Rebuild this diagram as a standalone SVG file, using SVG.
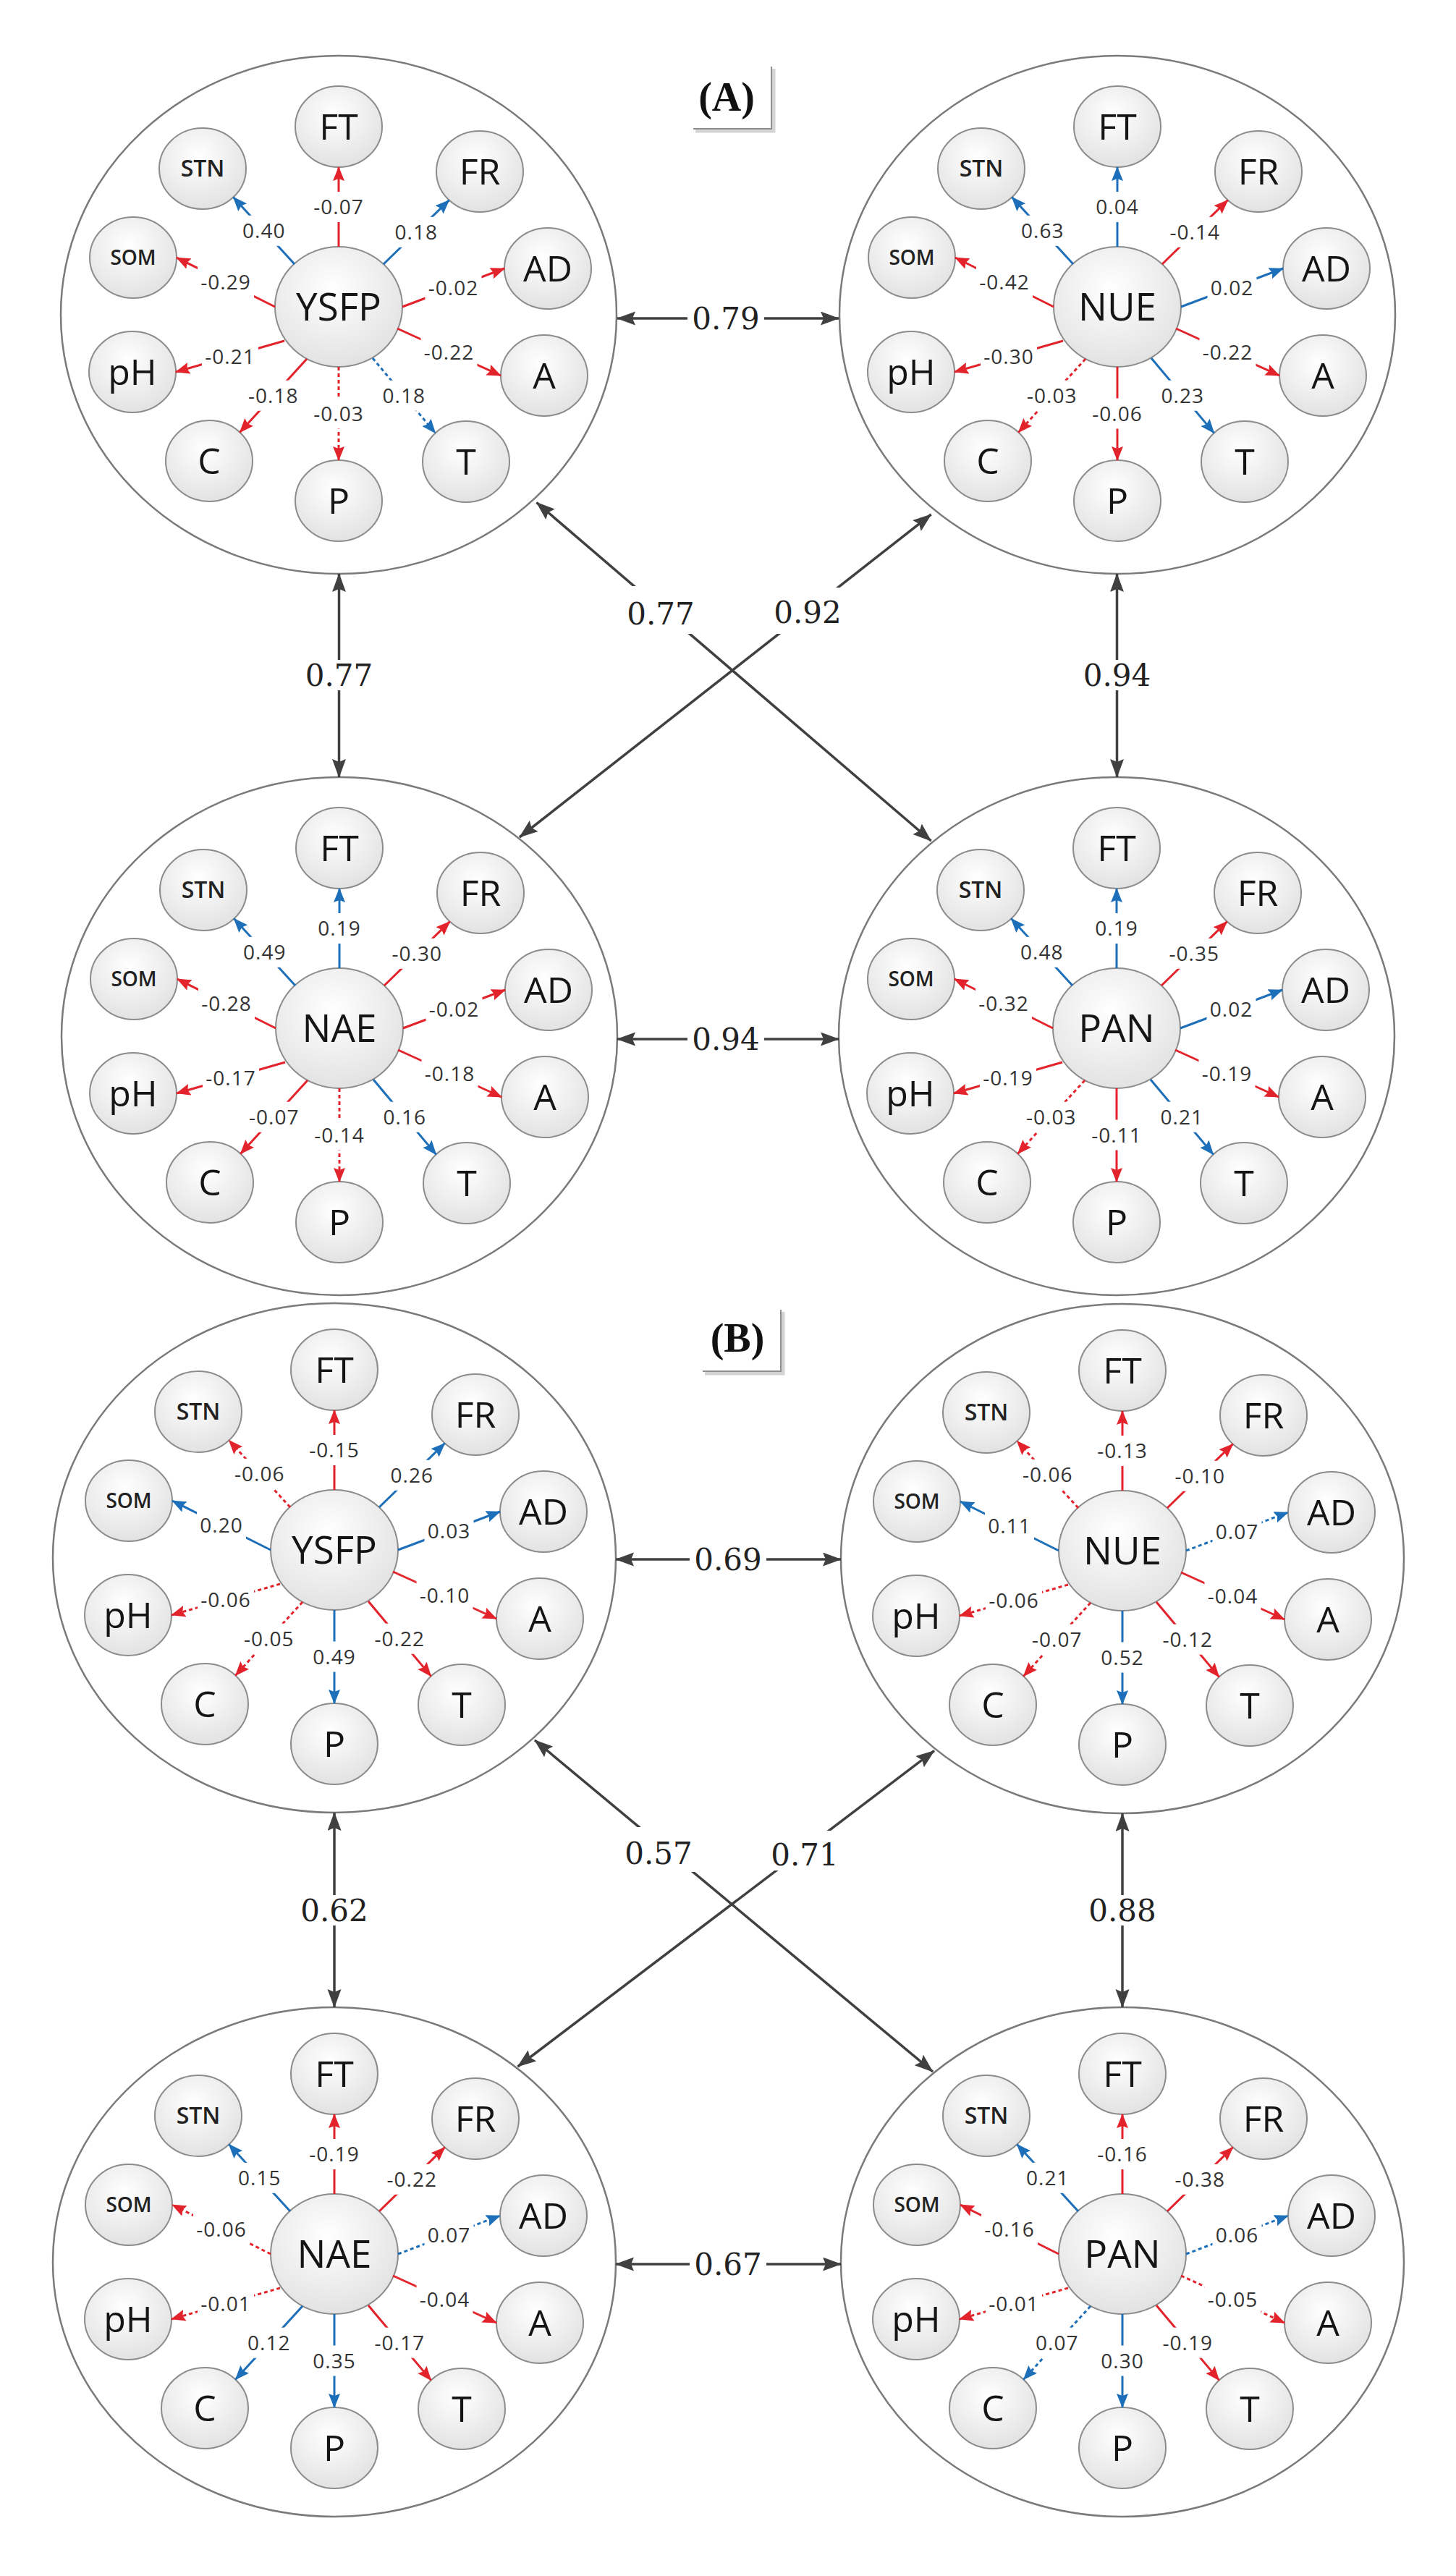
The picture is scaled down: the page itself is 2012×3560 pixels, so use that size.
<svg xmlns="http://www.w3.org/2000/svg" xmlns:xlink="http://www.w3.org/1999/xlink" width="2012" height="3560" viewBox="0 0 2012 3560">
<style>
.bgc{fill:#fff;stroke:#7a7a7a;stroke-width:2.5}
.nd ellipse{fill:url(#gr);stroke:#8c8c8c;stroke-width:2}
.cl{font-family:"Open Sans",sans-serif;font-size:53px;fill:#151515;text-anchor:middle}
.sl{font-family:"Open Sans",sans-serif;font-size:50px;fill:#151515;text-anchor:middle}
.stn{font-family:"Open Sans",sans-serif;font-size:32px;font-weight:600;fill:#222;text-anchor:middle}
.som{font-family:"Open Sans",sans-serif;font-size:28px;font-weight:600;fill:#222;text-anchor:middle}
.lk line{stroke-width:3;fill:none}
.lk .r{stroke:#e3232b;marker-end:url(#mr)}
.lk .b{stroke:#1c6fb8;marker-end:url(#mb)}
.lk .d{stroke-dasharray:5 4}
.lk text{font-family:"Open Sans",sans-serif;font-size:28px;fill:#333;text-anchor:middle;letter-spacing:1px}
.oc{stroke:#404040;stroke-width:3.5;fill:none;marker-start:url(#mk);marker-end:url(#mk)}
.ol{font-family:"DejaVu Serif",serif;font-size:42px;fill:#222;text-anchor:middle}
.wb{fill:#fff}
.tt{font-family:"Liberation Serif",serif;font-size:56px;font-weight:bold;fill:#111;text-anchor:middle}
.sh1{fill:none;stroke:#d4d4d4;stroke-width:5}
.sh2{fill:none;stroke:#8f8f8f;stroke-width:2}
</style>
<defs>
<radialGradient id="gr" cx="0.45" cy="0.35" r="0.75"><stop offset="0" stop-color="#ffffff"/><stop offset="1" stop-color="#dedede"/></radialGradient>
<marker id="mr" markerUnits="userSpaceOnUse" markerWidth="22" markerHeight="18" refX="19" refY="8" orient="auto"><path d="M0,0 L20,8 L0,16 L3,8 z" fill="#e3232b"/></marker>
<marker id="mb" markerUnits="userSpaceOnUse" markerWidth="22" markerHeight="18" refX="19" refY="8" orient="auto"><path d="M0,0 L20,8 L0,16 L3,8 z" fill="#1c6fb8"/></marker>
<marker id="mk" markerUnits="userSpaceOnUse" markerWidth="28" markerHeight="22" refX="25" refY="9.5" orient="auto-start-reverse"><path d="M0,0 L26,9.5 L0,19 L4,9.5 z" fill="#404040"/></marker>
<rect id="rn" x="-39" y="-21" width="78" height="42" fill="#fff"/>
<rect id="rp" x="-34" y="-21" width="68" height="42" fill="#fff"/>
</defs>
<rect width="2012" height="3560" fill="#fff"/>

<g id="title-A"><path class="sh1" d="M961,181 H1069 V95"/><path class="sh2" d="M958,178 H1066 V92"/><text class="tt" x="1004" y="153">(A)</text></g>
<g id="title-B"><path class="sh1" d="M974,1898 H1082 V1813"/><path class="sh2" d="M971,1895 H1079 V1810"/><text class="tt" x="1019" y="1868">(B)</text></g>

<!-- ===== Panel A ===== -->
<g id="A-YSFP" transform="translate(468,424)">
<ellipse class="bgc" cx="0" cy="11" rx="384" ry="358"/>
<g id="A-YSFP-YSFP" class="nd"><ellipse rx="88" ry="83"/><text class="cl" y="19">YSFP</text></g>
<g id="A-YSFP-FT" class="nd" transform="translate(0,-249)"><ellipse rx="60" ry="56"/><text class="sl" y="18">FT</text></g>
<g id="A-YSFP-FR" class="nd" transform="translate(195,-187)"><ellipse rx="60" ry="56"/><text class="sl" y="18">FR</text></g>
<g id="A-YSFP-AD" class="nd" transform="translate(289,-53)"><ellipse rx="60" ry="56"/><text class="sl" y="18">AD</text></g>
<g id="A-YSFP-A" class="nd" transform="translate(284,95)"><ellipse rx="60" ry="56"/><text class="sl" y="18">A</text></g>
<g id="A-YSFP-T" class="nd" transform="translate(176,214)"><ellipse rx="60" ry="56"/><text class="sl" y="18">T</text></g>
<g id="A-YSFP-P" class="nd" transform="translate(0,268)"><ellipse rx="60" ry="56"/><text class="sl" y="18">P</text></g>
<g id="A-YSFP-C" class="nd" transform="translate(-179,213)"><ellipse rx="60" ry="56"/><text class="sl" y="18">C</text></g>
<g id="A-YSFP-pH" class="nd" transform="translate(-285,90)"><ellipse rx="60" ry="56"/><text class="sl" y="18">pH</text></g>
<g id="A-YSFP-SOM" class="nd" transform="translate(-284,-68)"><ellipse rx="60" ry="56"/><text class="som" y="10">SOM</text></g>
<g id="A-YSFP-STN" class="nd" transform="translate(-188,-191)"><ellipse rx="60" ry="56"/><text class="stn" y="11">STN</text></g>
</g>

<g id="A-NUE" transform="translate(1544,424)">
<ellipse class="bgc" cx="0" cy="11" rx="384" ry="358"/>
<g id="A-NUE-NUE" class="nd"><ellipse rx="88" ry="83"/><text class="cl" y="19">NUE</text></g>
<g id="A-NUE-FT" class="nd" transform="translate(0,-249)"><ellipse rx="60" ry="56"/><text class="sl" y="18">FT</text></g>
<g id="A-NUE-FR" class="nd" transform="translate(195,-187)"><ellipse rx="60" ry="56"/><text class="sl" y="18">FR</text></g>
<g id="A-NUE-AD" class="nd" transform="translate(289,-53)"><ellipse rx="60" ry="56"/><text class="sl" y="18">AD</text></g>
<g id="A-NUE-A" class="nd" transform="translate(284,95)"><ellipse rx="60" ry="56"/><text class="sl" y="18">A</text></g>
<g id="A-NUE-T" class="nd" transform="translate(176,214)"><ellipse rx="60" ry="56"/><text class="sl" y="18">T</text></g>
<g id="A-NUE-P" class="nd" transform="translate(0,268)"><ellipse rx="60" ry="56"/><text class="sl" y="18">P</text></g>
<g id="A-NUE-C" class="nd" transform="translate(-179,213)"><ellipse rx="60" ry="56"/><text class="sl" y="18">C</text></g>
<g id="A-NUE-pH" class="nd" transform="translate(-285,90)"><ellipse rx="60" ry="56"/><text class="sl" y="18">pH</text></g>
<g id="A-NUE-SOM" class="nd" transform="translate(-284,-68)"><ellipse rx="60" ry="56"/><text class="som" y="10">SOM</text></g>
<g id="A-NUE-STN" class="nd" transform="translate(-188,-191)"><ellipse rx="60" ry="56"/><text class="stn" y="11">STN</text></g>
</g>

<g id="A-NAE" transform="translate(469,1421)">
<ellipse class="bgc" cx="0" cy="11" rx="384" ry="358"/>
<g id="A-NAE-NAE" class="nd"><ellipse rx="88" ry="83"/><text class="cl" y="19">NAE</text></g>
<g id="A-NAE-FT" class="nd" transform="translate(0,-249)"><ellipse rx="60" ry="56"/><text class="sl" y="18">FT</text></g>
<g id="A-NAE-FR" class="nd" transform="translate(195,-187)"><ellipse rx="60" ry="56"/><text class="sl" y="18">FR</text></g>
<g id="A-NAE-AD" class="nd" transform="translate(289,-53)"><ellipse rx="60" ry="56"/><text class="sl" y="18">AD</text></g>
<g id="A-NAE-A" class="nd" transform="translate(284,95)"><ellipse rx="60" ry="56"/><text class="sl" y="18">A</text></g>
<g id="A-NAE-T" class="nd" transform="translate(176,214)"><ellipse rx="60" ry="56"/><text class="sl" y="18">T</text></g>
<g id="A-NAE-P" class="nd" transform="translate(0,268)"><ellipse rx="60" ry="56"/><text class="sl" y="18">P</text></g>
<g id="A-NAE-C" class="nd" transform="translate(-179,213)"><ellipse rx="60" ry="56"/><text class="sl" y="18">C</text></g>
<g id="A-NAE-pH" class="nd" transform="translate(-285,90)"><ellipse rx="60" ry="56"/><text class="sl" y="18">pH</text></g>
<g id="A-NAE-SOM" class="nd" transform="translate(-284,-68)"><ellipse rx="60" ry="56"/><text class="som" y="10">SOM</text></g>
<g id="A-NAE-STN" class="nd" transform="translate(-188,-191)"><ellipse rx="60" ry="56"/><text class="stn" y="11">STN</text></g>
</g>

<g id="A-PAN" transform="translate(1543,1421)">
<ellipse class="bgc" cx="0" cy="11" rx="384" ry="358"/>
<g id="A-PAN-PAN" class="nd"><ellipse rx="88" ry="83"/><text class="cl" y="19">PAN</text></g>
<g id="A-PAN-FT" class="nd" transform="translate(0,-249)"><ellipse rx="60" ry="56"/><text class="sl" y="18">FT</text></g>
<g id="A-PAN-FR" class="nd" transform="translate(195,-187)"><ellipse rx="60" ry="56"/><text class="sl" y="18">FR</text></g>
<g id="A-PAN-AD" class="nd" transform="translate(289,-53)"><ellipse rx="60" ry="56"/><text class="sl" y="18">AD</text></g>
<g id="A-PAN-A" class="nd" transform="translate(284,95)"><ellipse rx="60" ry="56"/><text class="sl" y="18">A</text></g>
<g id="A-PAN-T" class="nd" transform="translate(176,214)"><ellipse rx="60" ry="56"/><text class="sl" y="18">T</text></g>
<g id="A-PAN-P" class="nd" transform="translate(0,268)"><ellipse rx="60" ry="56"/><text class="sl" y="18">P</text></g>
<g id="A-PAN-C" class="nd" transform="translate(-179,213)"><ellipse rx="60" ry="56"/><text class="sl" y="18">C</text></g>
<g id="A-PAN-pH" class="nd" transform="translate(-285,90)"><ellipse rx="60" ry="56"/><text class="sl" y="18">pH</text></g>
<g id="A-PAN-SOM" class="nd" transform="translate(-284,-68)"><ellipse rx="60" ry="56"/><text class="som" y="10">SOM</text></g>
<g id="A-PAN-STN" class="nd" transform="translate(-188,-191)"><ellipse rx="60" ry="56"/><text class="stn" y="11">STN</text></g>
</g>

<!-- ===== Panel B ===== -->
<g id="B-YSFP" transform="translate(462,2142)">
<ellipse class="bgc" cx="0" cy="11" rx="389" ry="352"/>
<g id="B-YSFP-YSFP" class="nd"><ellipse rx="88" ry="83"/><text class="cl" y="19">YSFP</text></g>
<g id="B-YSFP-FT" class="nd" transform="translate(0,-249)"><ellipse rx="60" ry="56"/><text class="sl" y="18">FT</text></g>
<g id="B-YSFP-FR" class="nd" transform="translate(195,-187)"><ellipse rx="60" ry="56"/><text class="sl" y="18">FR</text></g>
<g id="B-YSFP-AD" class="nd" transform="translate(289,-53)"><ellipse rx="60" ry="56"/><text class="sl" y="18">AD</text></g>
<g id="B-YSFP-A" class="nd" transform="translate(284,95)"><ellipse rx="60" ry="56"/><text class="sl" y="18">A</text></g>
<g id="B-YSFP-T" class="nd" transform="translate(176,214)"><ellipse rx="60" ry="56"/><text class="sl" y="18">T</text></g>
<g id="B-YSFP-P" class="nd" transform="translate(0,268)"><ellipse rx="60" ry="56"/><text class="sl" y="18">P</text></g>
<g id="B-YSFP-C" class="nd" transform="translate(-179,213)"><ellipse rx="60" ry="56"/><text class="sl" y="18">C</text></g>
<g id="B-YSFP-pH" class="nd" transform="translate(-285,90)"><ellipse rx="60" ry="56"/><text class="sl" y="18">pH</text></g>
<g id="B-YSFP-SOM" class="nd" transform="translate(-284,-68)"><ellipse rx="60" ry="56"/><text class="som" y="10">SOM</text></g>
<g id="B-YSFP-STN" class="nd" transform="translate(-188,-191)"><ellipse rx="60" ry="56"/><text class="stn" y="11">STN</text></g>
</g>

<g id="B-NUE" transform="translate(1551,2143)">
<ellipse class="bgc" cx="0" cy="11" rx="389" ry="352"/>
<g id="B-NUE-NUE" class="nd"><ellipse rx="88" ry="83"/><text class="cl" y="19">NUE</text></g>
<g id="B-NUE-FT" class="nd" transform="translate(0,-249)"><ellipse rx="60" ry="56"/><text class="sl" y="18">FT</text></g>
<g id="B-NUE-FR" class="nd" transform="translate(195,-187)"><ellipse rx="60" ry="56"/><text class="sl" y="18">FR</text></g>
<g id="B-NUE-AD" class="nd" transform="translate(289,-53)"><ellipse rx="60" ry="56"/><text class="sl" y="18">AD</text></g>
<g id="B-NUE-A" class="nd" transform="translate(284,95)"><ellipse rx="60" ry="56"/><text class="sl" y="18">A</text></g>
<g id="B-NUE-T" class="nd" transform="translate(176,214)"><ellipse rx="60" ry="56"/><text class="sl" y="18">T</text></g>
<g id="B-NUE-P" class="nd" transform="translate(0,268)"><ellipse rx="60" ry="56"/><text class="sl" y="18">P</text></g>
<g id="B-NUE-C" class="nd" transform="translate(-179,213)"><ellipse rx="60" ry="56"/><text class="sl" y="18">C</text></g>
<g id="B-NUE-pH" class="nd" transform="translate(-285,90)"><ellipse rx="60" ry="56"/><text class="sl" y="18">pH</text></g>
<g id="B-NUE-SOM" class="nd" transform="translate(-284,-68)"><ellipse rx="60" ry="56"/><text class="som" y="10">SOM</text></g>
<g id="B-NUE-STN" class="nd" transform="translate(-188,-191)"><ellipse rx="60" ry="56"/><text class="stn" y="11">STN</text></g>
</g>

<g id="B-NAE" transform="translate(462,3115)">
<ellipse class="bgc" cx="0" cy="11" rx="389" ry="352"/>
<g id="B-NAE-NAE" class="nd"><ellipse rx="88" ry="83"/><text class="cl" y="19">NAE</text></g>
<g id="B-NAE-FT" class="nd" transform="translate(0,-249)"><ellipse rx="60" ry="56"/><text class="sl" y="18">FT</text></g>
<g id="B-NAE-FR" class="nd" transform="translate(195,-187)"><ellipse rx="60" ry="56"/><text class="sl" y="18">FR</text></g>
<g id="B-NAE-AD" class="nd" transform="translate(289,-53)"><ellipse rx="60" ry="56"/><text class="sl" y="18">AD</text></g>
<g id="B-NAE-A" class="nd" transform="translate(284,95)"><ellipse rx="60" ry="56"/><text class="sl" y="18">A</text></g>
<g id="B-NAE-T" class="nd" transform="translate(176,214)"><ellipse rx="60" ry="56"/><text class="sl" y="18">T</text></g>
<g id="B-NAE-P" class="nd" transform="translate(0,268)"><ellipse rx="60" ry="56"/><text class="sl" y="18">P</text></g>
<g id="B-NAE-C" class="nd" transform="translate(-179,213)"><ellipse rx="60" ry="56"/><text class="sl" y="18">C</text></g>
<g id="B-NAE-pH" class="nd" transform="translate(-285,90)"><ellipse rx="60" ry="56"/><text class="sl" y="18">pH</text></g>
<g id="B-NAE-SOM" class="nd" transform="translate(-284,-68)"><ellipse rx="60" ry="56"/><text class="som" y="10">SOM</text></g>
<g id="B-NAE-STN" class="nd" transform="translate(-188,-191)"><ellipse rx="60" ry="56"/><text class="stn" y="11">STN</text></g>
</g>

<g id="B-PAN" transform="translate(1551,3115)">
<ellipse class="bgc" cx="0" cy="11" rx="389" ry="352"/>
<g id="B-PAN-PAN" class="nd"><ellipse rx="88" ry="83"/><text class="cl" y="19">PAN</text></g>
<g id="B-PAN-FT" class="nd" transform="translate(0,-249)"><ellipse rx="60" ry="56"/><text class="sl" y="18">FT</text></g>
<g id="B-PAN-FR" class="nd" transform="translate(195,-187)"><ellipse rx="60" ry="56"/><text class="sl" y="18">FR</text></g>
<g id="B-PAN-AD" class="nd" transform="translate(289,-53)"><ellipse rx="60" ry="56"/><text class="sl" y="18">AD</text></g>
<g id="B-PAN-A" class="nd" transform="translate(284,95)"><ellipse rx="60" ry="56"/><text class="sl" y="18">A</text></g>
<g id="B-PAN-T" class="nd" transform="translate(176,214)"><ellipse rx="60" ry="56"/><text class="sl" y="18">T</text></g>
<g id="B-PAN-P" class="nd" transform="translate(0,268)"><ellipse rx="60" ry="56"/><text class="sl" y="18">P</text></g>
<g id="B-PAN-C" class="nd" transform="translate(-179,213)"><ellipse rx="60" ry="56"/><text class="sl" y="18">C</text></g>
<g id="B-PAN-pH" class="nd" transform="translate(-285,90)"><ellipse rx="60" ry="56"/><text class="sl" y="18">pH</text></g>
<g id="B-PAN-SOM" class="nd" transform="translate(-284,-68)"><ellipse rx="60" ry="56"/><text class="som" y="10">SOM</text></g>
<g id="B-PAN-STN" class="nd" transform="translate(-188,-191)"><ellipse rx="60" ry="56"/><text class="stn" y="11">STN</text></g>
</g>

<!-- ===== Connectors ===== -->
<g id="connectors">

<g id="A-YSFP-links" class="lk" transform="translate(468,424)">
<line class="r" x1="0" y1="-83" x2="0" y2="-193"/><use href="#rn" x="0" y="-138"/><text x="0" y="-128">-0.07</text>
<line class="b" x1="62" y1="-59" x2="152.6" y2="-147.4"/><use href="#rp" x="107.3" y="-103.2"/><text x="107.3" y="-93.2">0.18</text>
<line class="r" x1="88" y1="0" x2="229" y2="-53"/><use href="#rn" x="158.5" y="-26.5"/><text x="158.5" y="-16.5">-0.02</text>
<line class="r" x1="81" y1="30" x2="224" y2="95"/><use href="#rn" x="152.5" y="62.5"/><text x="152.5" y="72.5">-0.22</text>
<line class="b d" x1="47" y1="71" x2="133.6" y2="174.4"/><use href="#rp" x="90.3" y="122.7"/><text x="90.3" y="132.7">0.18</text>
<line class="r d" x1="0" y1="83" x2="0" y2="212"/><use href="#rn" x="0" y="147.5"/><text x="0" y="157.5">-0.03</text>
<line class="r" x1="-44" y1="72" x2="-136.6" y2="173.4"/><use href="#rn" x="-90.3" y="122.7"/><text x="-90.3" y="132.7">-0.18</text>
<line class="r" x1="-75" y1="47" x2="-225" y2="90"/><use href="#rn" x="-150" y="68.5"/><text x="-150" y="78.5">-0.21</text>
<line class="r" x1="-88" y1="0" x2="-224" y2="-68"/><use href="#rn" x="-156" y="-34"/><text x="-156" y="-24">-0.29</text>
<line class="b" x1="-61" y1="-59" x2="-145.6" y2="-151.4"/><use href="#rp" x="-103.3" y="-105.2"/><text x="-103.3" y="-95.2">0.40</text>
</g>

<g id="A-NUE-links" class="lk" transform="translate(1544,424)">
<line class="b" x1="0" y1="-83" x2="0" y2="-193"/><use href="#rp" x="0" y="-138"/><text x="0" y="-128">0.04</text>
<line class="r" x1="62" y1="-59" x2="152.6" y2="-147.4"/><use href="#rn" x="107.3" y="-103.2"/><text x="107.3" y="-93.2">-0.14</text>
<line class="b" x1="88" y1="0" x2="229" y2="-53"/><use href="#rp" x="158.5" y="-26.5"/><text x="158.5" y="-16.5">0.02</text>
<line class="r" x1="81" y1="30" x2="224" y2="95"/><use href="#rn" x="152.5" y="62.5"/><text x="152.5" y="72.5">-0.22</text>
<line class="b" x1="47" y1="71" x2="133.6" y2="174.4"/><use href="#rp" x="90.3" y="122.7"/><text x="90.3" y="132.7">0.23</text>
<line class="r" x1="0" y1="83" x2="0" y2="212"/><use href="#rn" x="0" y="147.5"/><text x="0" y="157.5">-0.06</text>
<line class="r d" x1="-44" y1="72" x2="-136.6" y2="173.4"/><use href="#rn" x="-90.3" y="122.7"/><text x="-90.3" y="132.7">-0.03</text>
<line class="r" x1="-75" y1="47" x2="-225" y2="90"/><use href="#rn" x="-150" y="68.5"/><text x="-150" y="78.5">-0.30</text>
<line class="r" x1="-88" y1="0" x2="-224" y2="-68"/><use href="#rn" x="-156" y="-34"/><text x="-156" y="-24">-0.42</text>
<line class="b" x1="-61" y1="-59" x2="-145.6" y2="-151.4"/><use href="#rp" x="-103.3" y="-105.2"/><text x="-103.3" y="-95.2">0.63</text>
</g>

<g id="A-NAE-links" class="lk" transform="translate(469,1421)">
<line class="b" x1="0" y1="-83" x2="0" y2="-193"/><use href="#rp" x="0" y="-138"/><text x="0" y="-128">0.19</text>
<line class="r" x1="62" y1="-59" x2="152.6" y2="-147.4"/><use href="#rn" x="107.3" y="-103.2"/><text x="107.3" y="-93.2">-0.30</text>
<line class="r" x1="88" y1="0" x2="229" y2="-53"/><use href="#rn" x="158.5" y="-26.5"/><text x="158.5" y="-16.5">-0.02</text>
<line class="r" x1="81" y1="30" x2="224" y2="95"/><use href="#rn" x="152.5" y="62.5"/><text x="152.5" y="72.5">-0.18</text>
<line class="b" x1="47" y1="71" x2="133.6" y2="174.4"/><use href="#rp" x="90.3" y="122.7"/><text x="90.3" y="132.7">0.16</text>
<line class="r d" x1="0" y1="83" x2="0" y2="212"/><use href="#rn" x="0" y="147.5"/><text x="0" y="157.5">-0.14</text>
<line class="r" x1="-44" y1="72" x2="-136.6" y2="173.4"/><use href="#rn" x="-90.3" y="122.7"/><text x="-90.3" y="132.7">-0.07</text>
<line class="r" x1="-75" y1="47" x2="-225" y2="90"/><use href="#rn" x="-150" y="68.5"/><text x="-150" y="78.5">-0.17</text>
<line class="r" x1="-88" y1="0" x2="-224" y2="-68"/><use href="#rn" x="-156" y="-34"/><text x="-156" y="-24">-0.28</text>
<line class="b" x1="-61" y1="-59" x2="-145.6" y2="-151.4"/><use href="#rp" x="-103.3" y="-105.2"/><text x="-103.3" y="-95.2">0.49</text>
</g>

<g id="A-PAN-links" class="lk" transform="translate(1543,1421)">
<line class="b" x1="0" y1="-83" x2="0" y2="-193"/><use href="#rp" x="0" y="-138"/><text x="0" y="-128">0.19</text>
<line class="r" x1="62" y1="-59" x2="152.6" y2="-147.4"/><use href="#rn" x="107.3" y="-103.2"/><text x="107.3" y="-93.2">-0.35</text>
<line class="b" x1="88" y1="0" x2="229" y2="-53"/><use href="#rp" x="158.5" y="-26.5"/><text x="158.5" y="-16.5">0.02</text>
<line class="r" x1="81" y1="30" x2="224" y2="95"/><use href="#rn" x="152.5" y="62.5"/><text x="152.5" y="72.5">-0.19</text>
<line class="b" x1="47" y1="71" x2="133.6" y2="174.4"/><use href="#rp" x="90.3" y="122.7"/><text x="90.3" y="132.7">0.21</text>
<line class="r" x1="0" y1="83" x2="0" y2="212"/><use href="#rn" x="0" y="147.5"/><text x="0" y="157.5">-0.11</text>
<line class="r d" x1="-44" y1="72" x2="-136.6" y2="173.4"/><use href="#rn" x="-90.3" y="122.7"/><text x="-90.3" y="132.7">-0.03</text>
<line class="r" x1="-75" y1="47" x2="-225" y2="90"/><use href="#rn" x="-150" y="68.5"/><text x="-150" y="78.5">-0.19</text>
<line class="r" x1="-88" y1="0" x2="-224" y2="-68"/><use href="#rn" x="-156" y="-34"/><text x="-156" y="-24">-0.32</text>
<line class="b" x1="-61" y1="-59" x2="-145.6" y2="-151.4"/><use href="#rp" x="-103.3" y="-105.2"/><text x="-103.3" y="-95.2">0.48</text>
</g>

<g id="B-YSFP-links" class="lk" transform="translate(462,2142)">
<line class="r" x1="0" y1="-83" x2="0" y2="-193"/><use href="#rn" x="0" y="-138"/><text x="0" y="-128">-0.15</text>
<line class="b" x1="62" y1="-59" x2="152.6" y2="-147.4"/><use href="#rp" x="107.3" y="-103.2"/><text x="107.3" y="-93.2">0.26</text>
<line class="b" x1="88" y1="0" x2="229" y2="-53"/><use href="#rp" x="158.5" y="-26.5"/><text x="158.5" y="-16.5">0.03</text>
<line class="r" x1="81" y1="30" x2="224" y2="95"/><use href="#rn" x="152.5" y="62.5"/><text x="152.5" y="72.5">-0.10</text>
<line class="r" x1="47" y1="71" x2="133.6" y2="174.4"/><use href="#rn" x="90.3" y="122.7"/><text x="90.3" y="132.7">-0.22</text>
<line class="b" x1="0" y1="83" x2="0" y2="212"/><use href="#rp" x="0" y="147.5"/><text x="0" y="157.5">0.49</text>
<line class="r d" x1="-44" y1="72" x2="-136.6" y2="173.4"/><use href="#rn" x="-90.3" y="122.7"/><text x="-90.3" y="132.7">-0.05</text>
<line class="r d" x1="-75" y1="47" x2="-225" y2="90"/><use href="#rn" x="-150" y="68.5"/><text x="-150" y="78.5">-0.06</text>
<line class="b" x1="-88" y1="0" x2="-224" y2="-68"/><use href="#rp" x="-156" y="-34"/><text x="-156" y="-24">0.20</text>
<line class="r d" x1="-61" y1="-59" x2="-145.6" y2="-151.4"/><use href="#rn" x="-103.3" y="-105.2"/><text x="-103.3" y="-95.2">-0.06</text>
</g>

<g id="B-NUE-links" class="lk" transform="translate(1551,2143)">
<line class="r" x1="0" y1="-83" x2="0" y2="-193"/><use href="#rn" x="0" y="-138"/><text x="0" y="-128">-0.13</text>
<line class="r" x1="62" y1="-59" x2="152.6" y2="-147.4"/><use href="#rn" x="107.3" y="-103.2"/><text x="107.3" y="-93.2">-0.10</text>
<line class="b d" x1="88" y1="0" x2="229" y2="-53"/><use href="#rp" x="158.5" y="-26.5"/><text x="158.5" y="-16.5">0.07</text>
<line class="r" x1="81" y1="30" x2="224" y2="95"/><use href="#rn" x="152.5" y="62.5"/><text x="152.5" y="72.5">-0.04</text>
<line class="r" x1="47" y1="71" x2="133.6" y2="174.4"/><use href="#rn" x="90.3" y="122.7"/><text x="90.3" y="132.7">-0.12</text>
<line class="b" x1="0" y1="83" x2="0" y2="212"/><use href="#rp" x="0" y="147.5"/><text x="0" y="157.5">0.52</text>
<line class="r d" x1="-44" y1="72" x2="-136.6" y2="173.4"/><use href="#rn" x="-90.3" y="122.7"/><text x="-90.3" y="132.7">-0.07</text>
<line class="r d" x1="-75" y1="47" x2="-225" y2="90"/><use href="#rn" x="-150" y="68.5"/><text x="-150" y="78.5">-0.06</text>
<line class="b" x1="-88" y1="0" x2="-224" y2="-68"/><use href="#rp" x="-156" y="-34"/><text x="-156" y="-24">0.11</text>
<line class="r d" x1="-61" y1="-59" x2="-145.6" y2="-151.4"/><use href="#rn" x="-103.3" y="-105.2"/><text x="-103.3" y="-95.2">-0.06</text>
</g>

<g id="B-NAE-links" class="lk" transform="translate(462,3115)">
<line class="r" x1="0" y1="-83" x2="0" y2="-193"/><use href="#rn" x="0" y="-138"/><text x="0" y="-128">-0.19</text>
<line class="r" x1="62" y1="-59" x2="152.6" y2="-147.4"/><use href="#rn" x="107.3" y="-103.2"/><text x="107.3" y="-93.2">-0.22</text>
<line class="b d" x1="88" y1="0" x2="229" y2="-53"/><use href="#rp" x="158.5" y="-26.5"/><text x="158.5" y="-16.5">0.07</text>
<line class="r" x1="81" y1="30" x2="224" y2="95"/><use href="#rn" x="152.5" y="62.5"/><text x="152.5" y="72.5">-0.04</text>
<line class="r" x1="47" y1="71" x2="133.6" y2="174.4"/><use href="#rn" x="90.3" y="122.7"/><text x="90.3" y="132.7">-0.17</text>
<line class="b" x1="0" y1="83" x2="0" y2="212"/><use href="#rp" x="0" y="147.5"/><text x="0" y="157.5">0.35</text>
<line class="b" x1="-44" y1="72" x2="-136.6" y2="173.4"/><use href="#rp" x="-90.3" y="122.7"/><text x="-90.3" y="132.7">0.12</text>
<line class="r d" x1="-75" y1="47" x2="-225" y2="90"/><use href="#rn" x="-150" y="68.5"/><text x="-150" y="78.5">-0.01</text>
<line class="r d" x1="-88" y1="0" x2="-224" y2="-68"/><use href="#rn" x="-156" y="-34"/><text x="-156" y="-24">-0.06</text>
<line class="b" x1="-61" y1="-59" x2="-145.6" y2="-151.4"/><use href="#rp" x="-103.3" y="-105.2"/><text x="-103.3" y="-95.2">0.15</text>
</g>

<g id="B-PAN-links" class="lk" transform="translate(1551,3115)">
<line class="r" x1="0" y1="-83" x2="0" y2="-193"/><use href="#rn" x="0" y="-138"/><text x="0" y="-128">-0.16</text>
<line class="r" x1="62" y1="-59" x2="152.6" y2="-147.4"/><use href="#rn" x="107.3" y="-103.2"/><text x="107.3" y="-93.2">-0.38</text>
<line class="b d" x1="88" y1="0" x2="229" y2="-53"/><use href="#rp" x="158.5" y="-26.5"/><text x="158.5" y="-16.5">0.06</text>
<line class="r d" x1="81" y1="30" x2="224" y2="95"/><use href="#rn" x="152.5" y="62.5"/><text x="152.5" y="72.5">-0.05</text>
<line class="r" x1="47" y1="71" x2="133.6" y2="174.4"/><use href="#rn" x="90.3" y="122.7"/><text x="90.3" y="132.7">-0.19</text>
<line class="b" x1="0" y1="83" x2="0" y2="212"/><use href="#rp" x="0" y="147.5"/><text x="0" y="157.5">0.30</text>
<line class="b d" x1="-44" y1="72" x2="-136.6" y2="173.4"/><use href="#rp" x="-90.3" y="122.7"/><text x="-90.3" y="132.7">0.07</text>
<line class="r d" x1="-75" y1="47" x2="-225" y2="90"/><use href="#rn" x="-150" y="68.5"/><text x="-150" y="78.5">-0.01</text>
<line class="r" x1="-88" y1="0" x2="-224" y2="-68"/><use href="#rn" x="-156" y="-34"/><text x="-156" y="-24">-0.16</text>
<line class="b" x1="-61" y1="-59" x2="-145.6" y2="-151.4"/><use href="#rp" x="-103.3" y="-105.2"/><text x="-103.3" y="-95.2">0.21</text>
</g>

<g id="outer-links-A">
<line class="oc" x1="853" y1="440" x2="1159" y2="440"/><rect class="wb" x="950" y="420" width="106" height="40"/><text class="ol" x="1003" y="455">0.79</text>
<line class="oc" x1="468.5" y1="793" x2="468.5" y2="1074"/><rect class="wb" x="415" y="912" width="106" height="42"/><text class="ol" x="468.5" y="948">0.77</text>
<line class="oc" x1="1543.5" y1="793" x2="1543.5" y2="1074"/><rect class="wb" x="1490" y="912" width="106" height="42"/><text class="ol" x="1543.5" y="948">0.94</text>
<line class="oc" x1="853" y1="1436" x2="1159" y2="1436"/><rect class="wb" x="950" y="1416" width="106" height="40"/><text class="ol" x="1003" y="1451">0.94</text>
<line class="oc" x1="741.5" y1="694.5" x2="1286.6" y2="1162"/><rect class="wb" x="861" y="810" width="104" height="66"/><text class="ol" x="913" y="863">0.77</text>
<line class="oc" x1="1286.6" y1="711" x2="718" y2="1157"/><rect class="wb" x="1064" y="812" width="104" height="64"/><text class="ol" x="1116" y="861">0.92</text>
</g>

<g id="outer-links-B">
<line class="oc" x1="851" y1="2155" x2="1162" y2="2155"/><rect class="wb" x="953" y="2135" width="106" height="40"/><text class="ol" x="1006" y="2170">0.69</text>
<line class="oc" x1="462" y1="2505" x2="462" y2="2774"/><rect class="wb" x="409" y="2619" width="106" height="42"/><text class="ol" x="462" y="2655">0.62</text>
<line class="oc" x1="1551" y1="2506" x2="1551" y2="2774"/><rect class="wb" x="1498" y="2619" width="106" height="42"/><text class="ol" x="1551" y="2655">0.88</text>
<line class="oc" x1="851" y1="3129" x2="1162" y2="3129"/><rect class="wb" x="953" y="3109" width="106" height="40"/><text class="ol" x="1006" y="3144">0.67</text>
<line class="oc" x1="739" y1="2405" x2="1289" y2="2863"/><rect class="wb" x="864" y="2525" width="104" height="62"/><text class="ol" x="910" y="2576">0.57</text>
<line class="oc" x1="1291" y1="2419.5" x2="715.5" y2="2856"/><rect class="wb" x="1062" y="2530" width="104" height="55"/><text class="ol" x="1112" y="2578">0.71</text>
</g>

</g>
</svg>
